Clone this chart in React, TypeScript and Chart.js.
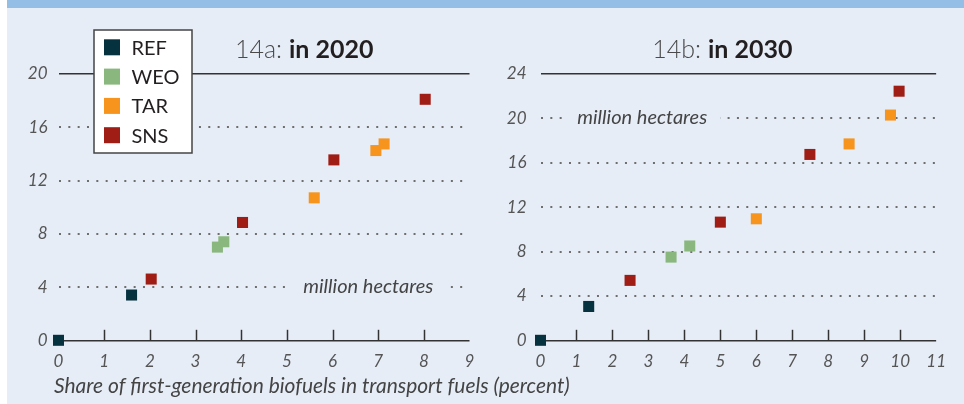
import React, { useEffect, useRef } from 'react';
import { Chart, registerables } from 'chart.js';

Chart.register(...registerables);

// ---------- data ----------
const SERIES = ['REF', 'WEO', 'TAR', 'SNS'];
const COLORS = ['#06313f', '#89b77d', '#f7941d', '#9f1d14'];

// 14a: in 2020 — [share of biofuels (%), land use (million hectares)]
const REF_2020 = [[0, 0], [1.6, 3.4]];
const WEO_2020 = [[3.48, 7.0], [3.62, 7.4]];
const TAR_2020 = [[5.6, 10.7], [6.95, 14.25], [7.13, 14.75]];
const SNS_2020 = [[2.03, 4.6], [4.03, 8.85], [6.03, 13.55], [8.03, 18.1]];

// 14b: in 2030
const REF_2030 = [[0, 0], [1.34, 3.05]];
const WEO_2030 = [[3.63, 7.5], [4.15, 8.5]];
const TAR_2030 = [[6.0, 10.95], [8.58, 17.7], [9.73, 20.3]];
const SNS_2030 = [[2.49, 5.4], [5.0, 10.65], [7.49, 16.75], [9.97, 22.45]];

const X_MAX = [9, 11];
const Y_MAX = [20, 24];
const Y_STEP = 4;
const X_STEP = 1;

const TITLE_PREFIX = ['14a:', '14b:'];
const TITLE_MAIN = ['in 2020', 'in 2030'];
const UNIT_NOTE = 'million hectares';
const X_TITLE = 'Share of first-generation biofuels in transport fuels (percent)';

// ---------- styles ----------
const BG = '#e6edf7';
const BAR = '#95bee7';
const FONT = "Lato, 'Open Sans', sans-serif";

const titlePlugin = {
  id: 'splitTitle',
  afterDraw(chart: any, _a: any, opts: any) {
    const ctx = chart.ctx;
    const x = chart.chartArea.left + opts.offset;
    ctx.save();
    ctx.textBaseline = 'alphabetic';
    ctx.font = `300 25px ${FONT}`;
    ctx.fillStyle = '#4a4a4a';
    ctx.textAlign = 'right';
    ctx.fillText(opts.prefix, x - 7, opts.baseline);
    ctx.font = `bold 25px ${FONT}`;
    ctx.fillStyle = '#231f20';
    ctx.textAlign = 'left';
    ctx.fillText(opts.main, x, opts.baseline);
    ctx.restore();
  },
};

const axisTitlePlugin = {
  id: 'axisTitle',
  afterDraw(chart: any, _a: any, opts: any) {
    if (!opts || !opts.text) return;
    const ctx = chart.ctx;
    ctx.save();
    ctx.font = `italic 20px ${FONT}`;
    const w20 = ctx.measureText(opts.text).width;
    const size = (20 * opts.width) / w20;
    ctx.font = `italic ${size.toFixed(2)}px ${FONT}`;
    ctx.fillStyle = '#444';
    ctx.textAlign = 'left';
    ctx.textBaseline = 'alphabetic';
    ctx.fillText(opts.text, chart.chartArea.left + opts.dx, opts.baseline);
    ctx.restore();
  },
};

const notePlugin = {
  id: 'unitNote',
  beforeDatasetsDraw(chart: any, _a: any, opts: any) {
    const ctx = chart.ctx;
    const px = chart.scales.x.getPixelForValue(opts.x);
    const py = chart.scales.y.getPixelForValue(opts.y);
    ctx.save();
    ctx.font = `italic 20px ${FONT}`;
    const w = ctx.measureText(opts.text).width;
    ctx.fillStyle = BG;
    ctx.fillRect(px - 15, py - 4, w + 28, 8);
    ctx.fillStyle = '#444';
    ctx.textAlign = 'left';
    ctx.textBaseline = 'alphabetic';
    ctx.fillText(opts.text, px, py + 6);
    ctx.restore();
  },
};

const upTickPlugin = {
  id: 'upTicks',
  beforeDatasetsDraw(chart: any) {
    const ctx = chart.ctx;
    const xs = chart.scales.x;
    const bottom = chart.scales.y.getPixelForValue(0);
    ctx.save();
    ctx.strokeStyle = '#333';
    ctx.lineWidth = 1.5;
    xs.ticks.forEach((t: any, i: number) => {
      if (i === 0 || i === xs.ticks.length - 1) return;
      const p = Math.round(xs.getPixelForValue(t.value)) + 0.5;
      ctx.beginPath();
      ctx.moveTo(p, bottom);
      ctx.lineTo(p, bottom - 10.5);
      ctx.stroke();
    });
    ctx.restore();
  },
};

const boxLegendPlugin = {
  id: 'boxLegend',
  afterDraw(chart: any, _a: any, opts: any) {
    const ctx = chart.ctx;
    const { left, top, width, height } = opts;
    ctx.save();
    ctx.fillStyle = '#ffffff';
    ctx.fillRect(left, top, width, height);
    ctx.strokeStyle = '#444';
    ctx.lineWidth = 1.5;
    ctx.strokeRect(left, top, width, height);
    ctx.font = `20px ${FONT}`;
    ctx.textBaseline = 'middle';
    ctx.textAlign = 'left';
    chart.data.datasets.forEach((ds: any, i: number) => {
      const cy = top + 17.3 + i * 29.3;
      ctx.fillStyle = ds.backgroundColor;
      ctx.fillRect(left + 10, cy - 8, 16, 16);
      ctx.fillStyle = '#231f20';
      ctx.fillText(ds.label, left + 37.5, cy + 1);
    });
    ctx.restore();
  },
};

function toPoints(arr: number[][]) {
  return arr.map(([x, y]) => ({ x, y }));
}

function makeConfig(p: any) {
  const yMax = p.yMax;
  const plugins: any[] = [titlePlugin, notePlugin, upTickPlugin];
  if (p.legend) plugins.push(boxLegendPlugin);
  if (p.xTitle) plugins.push(axisTitlePlugin);
  return {
    type: 'scatter',
    data: {
      datasets: SERIES.map((label, i) => ({
        label,
        data: toPoints(p.series[i]),
        backgroundColor: COLORS[i],
        borderColor: COLORS[i],
        borderWidth: 0,
        pointStyle: 'rect',
        pointRadius: 7.8,
        pointHoverRadius: 7.8,
        clip: false,
      })),
    },
    options: {
      responsive: false,
      animation: false,
      events: [],
      layout: { padding: { left: 0, top: 74, right: p.padRight, bottom: 0 } },
      plugins: {
        legend: { display: false },
        tooltip: { enabled: false },
        splitTitle: { prefix: p.prefix, main: p.main, offset: p.titleOffset, baseline: 58.3 },
        unitNote: { text: UNIT_NOTE, x: p.noteX, y: p.noteY },
        boxLegend: p.legend || {},
        axisTitle: { text: p.xTitle, dx: -4.5, width: 516, baseline: 392.5 },
      },
      scales: {
        x: {
          type: 'linear',
          min: 0,
          max: p.xMax,
          grid: { display: false, drawTicks: false },
          border: { display: false },
          ticks: {
            stepSize: X_STEP,
            padding: 11,
            maxRotation: 0,
            autoSkip: false,
            color: '#555',
            font: { family: FONT, style: 'italic', size: 17 },
          },
          title: { display: false },
          afterFit: (s: any) => {
            s.height = 63.7;
          },
        },
        y: {
          type: 'linear',
          min: 0,
          max: yMax,
          ticks: {
            stepSize: Y_STEP,
            padding: p.yPad,
            color: '#555',
            font: { family: FONT, style: 'italic', size: 17 },
          },
          grid: {
            drawTicks: false,
            color: (c: any) => (c.tick && (c.tick.value === 0 || c.tick.value === yMax) ? '#333' : '#6e6e6e'),
            lineWidth: (c: any) => (c.tick && (c.tick.value === 0 || c.tick.value === yMax) ? 1.5 : 2),
          },
          border: {
            display: false,
            dash: (c: any) => (c.tick && (c.tick.value === 0 || c.tick.value === yMax) ? [] : [2, 7.33]),
          },
          afterFit: (s: any) => {
            s.width = p.yWidth;
          },
        },
      },
    },
    plugins,
  };
}

const LEFT = {
  series: [REF_2020, WEO_2020, TAR_2020, SNS_2020],
  xMax: X_MAX[0],
  yMax: Y_MAX[0],
  prefix: TITLE_PREFIX[0],
  main: TITLE_MAIN[0],
  titleOffset: 230.5,
  noteX: 5.36,
  noteY: 4,
  padRight: 130.5,
  yWidth: 51.5,
  yPad: 11,
  xTitle: X_TITLE,
  legend: { left: 87, top: 30, width: 98, height: 123 },
};

const RIGHT = {
  series: [REF_2030, WEO_2030, TAR_2030, SNS_2030],
  xMax: X_MAX[1],
  yMax: Y_MAX[1],
  prefix: TITLE_PREFIX[1],
  main: TITLE_MAIN[1],
  titleOffset: 167.5,
  noteX: 1.02,
  noteY: 20,
  padRight: 14.7,
  yWidth: 60.5,
  yPad: 14,
  xTitle: null,
  legend: null,
};

export default function App() {
  const leftRef = useRef<HTMLCanvasElement>(null);
  const rightRef = useRef<HTMLCanvasElement>(null);

  useEffect(() => {
    const a = new Chart(leftRef.current as HTMLCanvasElement, makeConfig(LEFT) as any);
    const b = new Chart(rightRef.current as HTMLCanvasElement, makeConfig(RIGHT) as any);
    return () => {
      a.destroy();
      b.destroy();
    };
  }, []);

  return (
    <div style={{ position: 'fixed', left: 0, top: 0, width: 964, height: 404, background: '#ffffff', overflow: 'hidden' }}>
      <div style={{ position: 'absolute', left: 7, top: 0, width: 957, height: 404, background: BG }} />
      <div style={{ position: 'absolute', left: 7, top: 0, width: 957, height: 8, background: BAR }} />
      <canvas ref={leftRef} width={593} height={404} style={{ position: 'absolute', left: 7, top: 0 }} />
      <canvas ref={rightRef} width={477} height={404} style={{ position: 'absolute', left: 480, top: 0 }} />
    </div>
  );
}
